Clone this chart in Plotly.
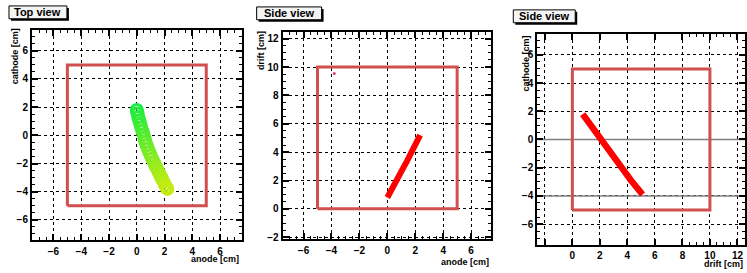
import plotly.graph_objects as go

# ---------------- data ----------------
# Top view track (anode, cathode) in cm
top_anode = [0.0, 0.05, 0.1, 0.18, 0.25, 0.32, 0.4, 0.48, 0.55, 0.62, 0.7, 0.8, 0.9, 1.0, 1.1,
             1.22, 1.32, 1.42, 1.52, 1.62, 1.72, 1.82, 1.92, 2.02, 2.12, 2.2]
top_cathode = [1.8, 1.55, 1.3, 1.05, 0.8, 0.55, 0.3, 0.05, -0.2, -0.45, -0.7, -0.95, -1.2, -1.42,
               -1.65, -1.88, -2.1, -2.3, -2.5, -2.7, -2.9, -3.1, -3.3, -3.5, -3.68, -3.8]

# Side view track (anode, drift) in cm
side1_anode = [0.0, 0.15, 0.3, 0.45, 0.6, 0.8, 1.0, 1.2, 1.4, 1.6, 1.8, 2.0, 2.2, 2.35]
side1_drift = [0.8, 1.1, 1.4, 1.7, 1.95, 2.3, 2.65, 3.0, 3.35, 3.7, 4.05, 4.4, 4.8, 5.2]
side1_noise_anode = [-3.8]
side1_noise_drift = [9.55]

# Side view track (drift, cathode) in cm
side2_drift = [0.75, 1.0, 1.3, 1.6, 1.9, 2.2, 2.5, 2.8, 3.1, 3.4, 3.7, 4.0, 4.3, 4.6, 4.9, 5.1]
side2_cathode = [1.8, 1.45, 1.05, 0.65, 0.25, -0.15, -0.55, -0.95, -1.35, -1.75, -2.15, -2.55,
                 -2.95, -3.35, -3.75, -3.9]
side2_hlines = [0, -4]

# fiducial boxes [x0, x1, y0, y1]
box_top = [-5, 5, -5, 5]
box_side1 = [-5, 5, 0, 10]
box_side2 = [0, 10, -5, 5]

titles = ["Top view", "Side view", "Side view"]
xtitles = ["anode [cm]", "anode [cm]", "drift [cm]"]
ytitles = ["cathode [cm]", "drift [cm]", "cathode [cm]"]

W, H = 747, 273
RED = "#d05050"
FONT = "Liberation Sans"

fig = go.Figure()

def px(x):
    return x / W

def py(y):
    return 1 - y / H

# domains (pixel measurements)
doms = [
    dict(x=(32, 242), y=(30, 243)),
    dict(x=(283, 492), y=(32, 242)),
    dict(x=(538, 746), y=(34, 248)),
]
ranges = [
    dict(x=[-7.55, 7.55], y=[-7.45, 7.5]),
    dict(x=[-7.5, 7.45], y=[-2.15, 12.5]),
    dict(x=[-2.55, 12.55], y=[-7.5, 7.5]),
]

def box_trace(b, xa, ya):
    return go.Scatter(x=[b[0], b[1], b[1], b[0], b[0]], y=[b[2], b[2], b[3], b[3], b[2]],
                      mode="lines", line=dict(color=RED, width=3), xaxis=xa, yaxis=ya,
                      hoverinfo="skip", showlegend=False)

# panel 1
fig.add_trace(box_trace(box_top, "x", "y"))
fig.add_trace(go.Scatter(x=top_anode, y=top_cathode, mode="markers", xaxis="x", yaxis="y",
                         marker=dict(symbol="circle-open", size=11, line=dict(width=3),
                                     color=top_cathode, cmin=-3.8, cmax=1.8,
                                     colorscale=[[0, "#c4ec10"], [1, "#18ec40"]]),
                         showlegend=False))
# panel 2
fig.add_trace(box_trace(box_side1, "x2", "y2"))
fig.add_trace(go.Scatter(x=side1_anode, y=side1_drift, mode="lines", xaxis="x2", yaxis="y2",
                         line=dict(color="#ff0000", width=6), showlegend=False))
fig.add_trace(go.Scatter(x=side1_noise_anode, y=side1_noise_drift, mode="markers", xaxis="x2", yaxis="y2",
                         marker=dict(color="#e04060", size=3), showlegend=False))
# panel 3
for h in side2_hlines:
    fig.add_trace(go.Scatter(x=[ranges[2]["x"][0], ranges[2]["x"][1]], y=[h, h], mode="lines",
                             xaxis="x3", yaxis="y3", line=dict(color="#808080", width=1.5),
                             hoverinfo="skip", showlegend=False))
fig.add_trace(box_trace(box_side2, "x3", "y3"))
fig.add_trace(go.Scatter(x=side2_drift, y=side2_cathode, mode="lines", xaxis="x3", yaxis="y3",
                         line=dict(color="#ff0000", width=6.5), showlegend=False))

tickfont = dict(family=FONT, size=10, color="black", weight="bold")

def axis_common():
    return dict(showline=True, linecolor="black", linewidth=2, mirror="ticks",
                ticks="inside", ticklen=6, tickwidth=1.5, tickcolor="black",
                showgrid=True, gridcolor="black", griddash="dot", gridwidth=1,
                zeroline=False, tickfont=tickfont, fixedrange=True)

layout = dict(width=W, height=H, margin=dict(l=0, r=0, t=0, b=0),
              paper_bgcolor="white", plot_bgcolor="white", showlegend=False)

xticks = [
    dict(tickvals=[-6, -4, -2, 0, 2, 4, 6]),
    dict(tickvals=[-6, -4, -2, 0, 2, 4, 6]),
    dict(tickvals=[-2, 0, 2, 4, 6, 8, 10, 12], ticktext=["", "0", "2", "4", "6", "8", "10", "12"]),
]
yticks = [
    dict(tickvals=[-6, -4, -2, 0, 2, 4, 6]),
    dict(tickvals=[-2, 0, 2, 4, 6, 8, 10, 12]),
    dict(tickvals=[-6, -4, -2, 0, 2, 4, 6]),
]

for i in range(3):
    sfx = "" if i == 0 else str(i + 1)
    d = doms[i]
    xa = axis_common()
    xa.update(domain=[px(d["x"][0]), px(d["x"][1])], range=ranges[i]["x"],
              anchor="y" + sfx, tickmode="array", ticklabelstandoff=(1 if i < 2 else 0),
              **xticks[i])
    xa["minor"] = dict(ticks="inside", ticklen=3, tickwidth=1, tickcolor="black", dtick=0.5,
                       tick0=0, showgrid=False)
    if i == 2:
        xa["minor"] = dict(ticks="inside", ticklen=3, tickwidth=1, tickcolor="black",
                           tickvals=[8.5, 9, 9.5, 10.5, 11, 11.5, 12.5], showgrid=False)
    ya = axis_common()
    ya.update(domain=[py(d["y"][1]), py(d["y"][0])], range=ranges[i]["y"],
              anchor="x" + sfx, tickmode="array", **yticks[i])
    ya["minor"] = dict(ticks="inside", ticklen=3, tickwidth=1, tickcolor="black", dtick=0.5,
                       tick0=0, showgrid=False)
    layout["xaxis" + sfx] = xa
    layout["yaxis" + sfx] = ya

fig.update_layout(**layout)

# title boxes
title_boxes = [(9, 6, 67, 19), (257, 7, 322, 20), (514, 10, 576, 23)]
for (x0, y0, x1, y1), t in zip(title_boxes, titles):
    fig.add_shape(type="rect", xref="paper", yref="paper",
                  x0=px(x0 + 2), x1=px(x1 + 2), y0=py(y1 + 2), y1=py(y0 + 2),
                  fillcolor="black", line=dict(width=0), layer="above")
    fig.add_shape(type="rect", xref="paper", yref="paper",
                  x0=px(x0), x1=px(x1), y0=py(y1), y1=py(y0),
                  fillcolor="#f4f4f4", line=dict(color="black", width=1), layer="above")
    fig.add_annotation(text=t, xref="paper", yref="paper", x=px((x0 + x1) / 2), y=py((y0 + y1) / 2),
                       showarrow=False, xanchor="center", yanchor="middle",
                       font=dict(family=FONT, size=11, color="black", weight="bold"))

# axis titles
xt_pos = [(241, 262), (492, 265), (746, 267)]
yt_pos = [(15, 57), (262, 51), (527, 64)]
for t, (x, y) in zip(xtitles, xt_pos):
    fig.add_annotation(text=t, xref="paper", yref="paper", x=px(x), y=py(y), showarrow=False,
                       xanchor="right", yanchor="middle",
                       font=dict(family=FONT, size=9, color="black", weight="bold"))
for t, (x, y) in zip(ytitles, yt_pos):
    fig.add_annotation(text=t, xref="paper", yref="paper", x=px(x), y=py(y), showarrow=False,
                       xanchor="center", yanchor="middle", textangle=-90,
                       font=dict(family=FONT, size=9, color="black", weight="bold"))

fig.write_html("out.html", config={"displayModeBar": False},
               post_script="document.body.style.margin='0';document.body.style.padding='0';")
